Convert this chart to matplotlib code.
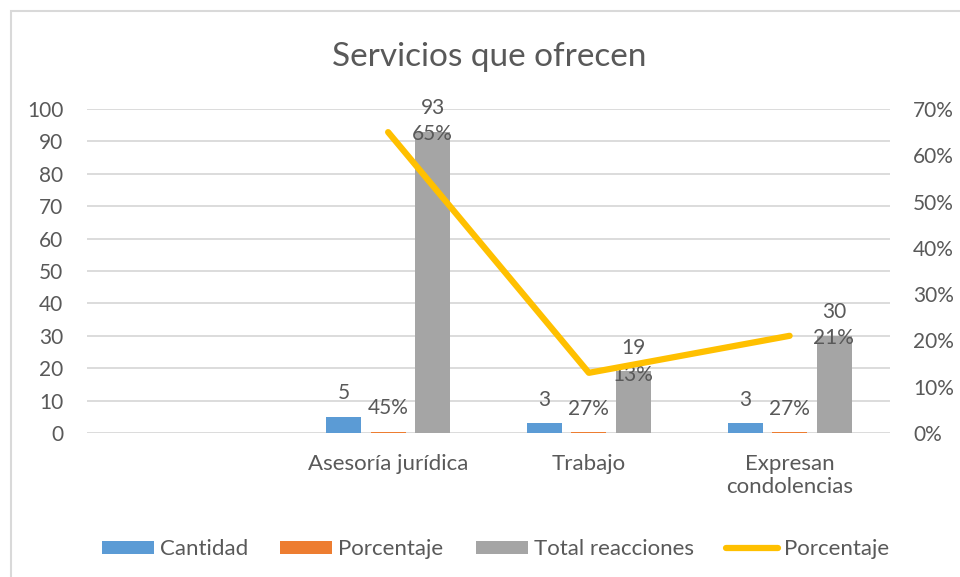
import matplotlib.pyplot as plt
import matplotlib.patches as mpatches
from matplotlib.ticker import PercentFormatter, FixedLocator

plt.rcParams['font.family'] = ['Lato', 'DejaVu Sans']

# chart data
categorias = ['', 'Asesoría jurídica', 'Trabajo', 'Expresan\ncondolencias']
cantidad = [None, 5, 3, 3]
porcentaje = [None, 0.45, 0.27, 0.27]
total_reacciones = [None, 93, 19, 30]
porcentaje_linea = [None, 0.65, 0.13, 0.21]

azul = '#5B9BD5'
naranja = '#ED7D31'
gris = '#A5A5A5'
amarillo = '#FFC000'
texto = '#595959'
rejilla = '#D9D9D9'
fs = 15
fs_cat = 16

fig = plt.figure(figsize=(9.6, 5.77), dpi=100)
ax = fig.add_axes([87 / 960, 1 - 433 / 577, 803 / 960, 324 / 577])
ax2 = ax.twinx()

ancho = 0.174
desp = 0.222
idx = [i for i in range(len(categorias)) if cantidad[i] is not None]

series = [(cantidad, -desp, azul, 'Cantidad', lambda v: f'{v:g}'),
          (porcentaje, 0, naranja, 'Porcentaje', lambda v: f'{v:.0%}'),
          (total_reacciones, desp, gris, 'Total reacciones', lambda v: f'{v:g}')]

handles = []
for valores, off, color, nombre, fmt in series:
    xs = [i + off for i in idx]
    ys = [valores[i] for i in idx]
    barras = ax.bar(xs, ys, width=ancho, color=color, label=nombre, zorder=3)
    handles.append(barras)
    for x, y in zip(xs, ys):
        ax.annotate(fmt(y), (x, y), xytext=(0, 12.5), textcoords='offset points',
                    ha='center', va='baseline', fontsize=fs, color=texto, zorder=5)

# percentage line on the secondary axis
lx = idx
ly = [porcentaje_linea[i] for i in idx]
linea, = ax2.plot(lx, ly, color=amarillo, lw=4.5, solid_capstyle='round',
                  label='Porcentaje', zorder=4)
handles.append(linea)
for x, y in zip(lx, ly):
    ax2.annotate(f'{y:.0%}', (x, y), xytext=(17, 0), textcoords='offset points',
                 ha='left', va='center_baseline', fontsize=fs, color=texto)

ax.set_xlim(-0.5, 3.5)
ax.set_ylim(0, 100)
ax.yaxis.set_major_locator(FixedLocator(range(0, 101, 10)))
ax2.set_ylim(0, 0.70)
ax2.yaxis.set_major_locator(FixedLocator([i / 10 for i in range(8)]))
ax2.yaxis.set_major_formatter(PercentFormatter(1.0, decimals=0))

ax.set_xticks(range(len(categorias)))
ax.set_xticklabels(categorias, linespacing=1.2, fontsize=fs_cat)
ax.grid(axis='y', color=rejilla, lw=1.3, zorder=0)
ax.set_axisbelow(True)

for a in (ax, ax2):
    for s in a.spines.values():
        s.set_visible(False)
    a.tick_params(length=0, labelsize=fs, colors=texto)
ax.tick_params(axis='x', labelsize=fs_cat, pad=15)
ax.tick_params(axis='y', pad=17)
ax2.tick_params(axis='y', pad=16.5)

fig.text(0.51, 1 - 57 / 577, 'Servicios que ofrecen', ha='center', va='center',
         fontsize=24, color=texto)

fig.legend(handles=handles, loc='center', bbox_to_anchor=(0.516, 1 - 549 / 577),
           ncol=4, frameon=False, fontsize=fs_cat, labelcolor=texto,
           handlelength=2.34, handleheight=0.54, handletextpad=0.27,
           columnspacing=1.45)

# chart area border
fig.patches.append(mpatches.Rectangle((10.5 / 960, -0.1), 1.2, 566.5 / 577 + 0.1,
                                      transform=fig.transFigure, fill=False,
                                      ec=rejilla, lw=1.5))

fig.savefig('out.png', dpi=100)
